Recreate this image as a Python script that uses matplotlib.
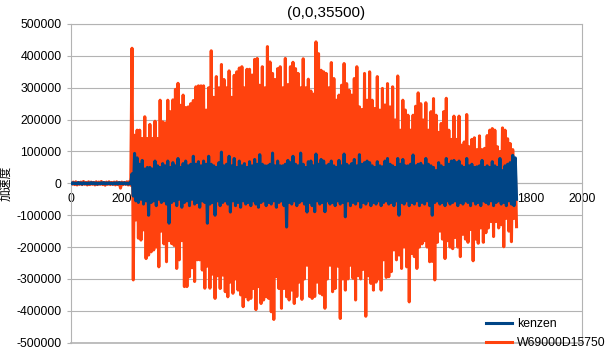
import matplotlib
matplotlib.use("Agg")
import matplotlib.pyplot as plt
from matplotlib.lines import Line2D
from matplotlib.ticker import FuncFormatter
import numpy as np

plt.rcParams['font.family'] = ['Liberation Sans', 'Noto Sans CJK JP', 'DejaVu Sans']
plt.rcParams['axes.unicode_minus'] = False

# Datos: picos superiores (x = 0, 10, 20, ...)
# y picos inferiores (x = 5, 15, 25, ...) de cada serie
title = "(0,0,35500)"
ylabel = "加速度"
names = ["kenzen", "W69000D15750"]
colors = ["#004586", "#ff420e"]

kenzen_hi = [
    1500, 2000, 1000, 2500, 1500, 2000, 1000, 1500, 2500, 2000, 1500, 1000,
    2000, 2500, 1500, 2000, 1000, 1500, 2000, 2500, 1500, 2000, 1000, 1500,
    30000, 94000, 80000, 60000, 72000, 45000, 50000, 50000, 45000, 70000,
    55000, 50000, 62000, 55000, 70000, 50000, 65000, 55000, 78000, 50000,
    62000, 70000, 55000, 60000, 85000, 60000, 68000, 55000, 70000, 60000,
    85000, 60000, 55000, 50000, 65000, 98000, 55000, 60000, 85000, 55000,
    78000, 50000, 70000, 55000, 62000, 50000, 68000, 55000, 75000, 60000,
    90000, 60000, 55000, 55000, 60000, 95000, 55000, 70000, 55000, 55000,
    60000, 72000, 65000, 85000, 60000, 55000, 95000, 60000, 50000, 68000,
    70000, 55000, 92000, 60000, 75000, 70000, 55000, 60000, 70000, 55000,
    50000, 72000, 55000, 92000, 60000, 55000, 62000, 75000, 55000, 90000,
    60000, 65000, 70000, 65000, 55000, 50000, 68000, 55000, 52000, 70000,
    78000, 60000, 55000, 50000, 78000, 60000, 75000, 55000, 55000, 60000,
    89000, 55000, 60000, 63000, 55000, 78000, 60000, 55000, 50000, 40000,
    65000, 55000, 50000, 78000, 60000, 70000, 72000, 65000, 70000, 55000,
    50000, 78000, 55000, 60000, 50000, 52000, 55000, 72000, 50000, 55000,
    50000, 68000, 55000, 50000, 78000, 40000, 55000, 60000, 65000, 88000,
    80000,
]
kenzen_lo = [
    -1500, -1000, -2000, -1500, -2500, -1000, -2000, -1500, -1000, -2000, -2500, -1500,
    -1000, -2000, -1500, -1000, -2500, -1500, -2000, -1000, -1500, -2000, -2500, -1500,
    -40000, -55000, -60000, -50000, -65000, -55000, -100000, -60000, -55000, -70000,
    -50000, -60000, -55000, -65000, -125000, -60000, -55000, -70000, -50000, -75000,
    -60000, -55000, -70000, -50000, -65000, -60000, -75000, -55000, -60000, -125000,
    -65000, -60000, -100000, -55000, -70000, -60000, -55000, -65000, -90000, -55000,
    -70000, -60000, -75000, -55000, -65000, -60000, -70000, -55000, -65000, -75000,
    -60000, -55000, -70000, -60000, -65000, -55000, -75000, -60000, -55000, -70000,
    -137000, -60000, -65000, -55000, -70000, -60000, -55000, -65000, -90000, -60000,
    -70000, -89000, -55000, -65000, -60000, -89000, -55000, -65000, -60000, -70000,
    -55000, -65000, -60000, -105000, -55000, -70000, -60000, -65000, -55000, -75000,
    -60000, -65000, -55000, -70000, -60000, -65000, -55000, -70000, -60000, -55000,
    -65000, -60000, -70000, -55000, -100000, -60000, -65000, -55000, -70000, -60000,
    -65000, -55000, -70000, -60000, -65000, -55000, -70000, -100000, -60000, -55000,
    -65000, -60000, -70000, -55000, -65000, -60000, -55000, -70000, -60000, -65000,
    -55000, -60000, -70000, -55000, -65000, -60000, -70000, -55000, -60000, -65000,
    -55000, -70000, -60000, -55000, -65000, -60000, -70000, -55000, -65000, -70000,
    -50000,
]
w69_hi = [
    3000, 4000, 5000, 3000, 4000, 6000, 3000, 5000, 4000, 3000, 5000, 4000,
    6000, 3000, 4000, 5000, 3000, 4000, 5000, 3000, 4000, 3000, 5000, 6000,
    424000, 151000, 167000, 167000, 141000, 209000, 141000, 185000, 141000, 195000,
    141000, 261000, 193000, 190000, 261000, 225000, 262000, 295000, 314000, 245000,
    277000, 238000, 240000, 250000, 260000, 303000, 306000, 306000, 306000, 230000,
    300000, 416000, 270000, 335000, 300000, 373000, 326000, 300000, 353000, 270000,
    339000, 350000, 362000, 366000, 300000, 358000, 358000, 340000, 389000, 392000,
    308000, 366000, 300000, 429000, 381000, 345000, 326000, 360000, 366000, 300000,
    392000, 310000, 366000, 380000, 360000, 345000, 300000, 391000, 300000, 327000,
    290000, 280000, 444000, 407000, 355000, 350000, 345000, 300000, 379000, 329000,
    261000, 277000, 308000, 376000, 313000, 292000, 277000, 329000, 366000, 240000,
    232000, 345000, 261000, 350000, 261000, 235000, 335000, 230000, 298000, 246000,
    313000, 240000, 303000, 199000, 337000, 167000, 261000, 230000, 214000, 167000,
    214000, 242000, 284000, 250000, 199000, 253000, 167000, 225000, 266000, 214000,
    160000, 188000, 225000, 267000, 167000, 138000, 211000, 138000, 211000, 120000,
    130000, 216000, 115000, 138000, 143000, 106000, 149000, 106000, 110000, 150000,
    167000, 172000, 167000, 115000, 100000, 174000, 167000, 140000, 125000, 106000,
    57000,
]
w69_lo = [
    -3000, -4000, -5000, -3000, -4000, -3000, -5000, -4000, -3000, -5000, -4000, -3000,
    -4000, -6000, -3000, -4000, -3000, -5000, -4000, -15000, -4000, -3000, -5000, -6000,
    -303000, -115000, -172000, -178000, -146000, -236000, -225000, -215000, -209000, -200000,
    -262000, -150000, -190000, -246000, -180000, -189000, -195000, -267000, -240000, -180000,
    -324000, -324000, -293000, -265000, -308000, -240000, -240000, -272000, -329000, -260000,
    -329000, -285000, -361000, -290000, -330000, -288000, -340000, -356000, -310000, -345000,
    -300000, -335000, -350000, -387000, -356000, -366000, -361000, -330000, -396000, -324000,
    -377000, -366000, -356000, -361000, -403000, -427000, -293000, -330000, -392000, -330000,
    -356000, -366000, -335000, -377000, -355000, -310000, -364000, -300000, -257000, -355000,
    -361000, -355000, -310000, -345000, -350000, -392000, -300000, -257000, -340000, -330000,
    -260000, -424000, -300000, -335000, -300000, -257000, -298000, -366000, -290000, -300000,
    -270000, -417000, -290000, -314000, -335000, -310000, -300000, -335000, -240000, -295000,
    -293000, -277000, -209000, -240000, -225000, -267000, -200000, -262000, -372000, -220000,
    -230000, -267000, -200000, -190000, -180000, -200000, -246000, -245000, -303000, -185000,
    -150000, -175000, -236000, -180000, -200000, -205000, -170000, -200000, -230000, -160000,
    -175000, -185000, -145000, -243000, -175000, -188000, -140000, -185000, -155000, -140000,
    -120000, -167000, -120000, -140000, -130000, -199000, -110000, -150000, -183000, -110000,
    -136000,
]
xticks = [0, 200, 400, 600, 800, 1000, 1200, 1400, 1600, 1800, 2000]
yticks = [-500000, -400000, -300000, -200000, -100000, 0,
          100000, 200000, 300000, 400000, 500000]


def zigzag(hi, lo):
    # une picos superiores e inferiores en orden de x
    x = np.concatenate([10 * np.arange(len(hi)), 5 + 10 * np.arange(len(lo))])
    y = np.concatenate([hi, lo])
    order = np.argsort(x, kind="stable")
    return x[order], y[order]


fig = plt.figure(figsize=(6.12, 3.55), dpi=100)
ax = fig.add_axes([0.1155, 0.0346, 0.835, 0.8978])

xb, yb = zigzag(kenzen_hi, kenzen_lo)
xo, yo = zigzag(w69_hi, w69_lo)
ax.plot(xo, yo, color=colors[1], linewidth=2.2, zorder=2)
ax.plot(xb, yb, color=colors[0], linewidth=2.2, zorder=3)

ax.set_xlim(0, 2000)
ax.set_ylim(-500000, 500000)
ax.set_xticks(xticks)
ax.set_yticks(yticks)
ax.yaxis.set_major_formatter(FuncFormatter(lambda v, p: f"{int(v)}"))
ax.grid(axis="y", color="#b3b3b3", linewidth=0.8, zorder=0)
ax.set_axisbelow(True)

for s in ["left", "right", "top"]:
    ax.spines[s].set_color("#b3b3b3")
ax.spines["bottom"].set_position(("data", 0))
ax.spines["bottom"].set_color("#b3b3b3")
ax.axhline(-500000, color="#b3b3b3", linewidth=1.2, clip_on=False, zorder=0)

ax.tick_params(axis="x", length=0, pad=7, labelsize=8.8, colors="black")
ax.tick_params(axis="y", length=3, pad=3.5, labelsize=8.8, color="#b3b3b3",
               labelcolor="black")

ax.set_title(title, fontsize=11, pad=5)
ax.set_ylabel(ylabel, fontsize=8.5, family=['Noto Sans CJK JP', 'DejaVu Sans'])
ax.yaxis.set_label_coords(-0.113, 0.5)

handles = [Line2D([], [], color=c, linewidth=2.2) for c in colors]
fig.legend(handles, names, loc="lower left", bbox_to_anchor=(486 / 612, 6 / 355),
           frameon=False, fontsize=8.8, handlelength=2.15, handletextpad=0.4,
           labelspacing=0.56, borderpad=0, borderaxespad=0)

fig.savefig("out.png", dpi=100)
